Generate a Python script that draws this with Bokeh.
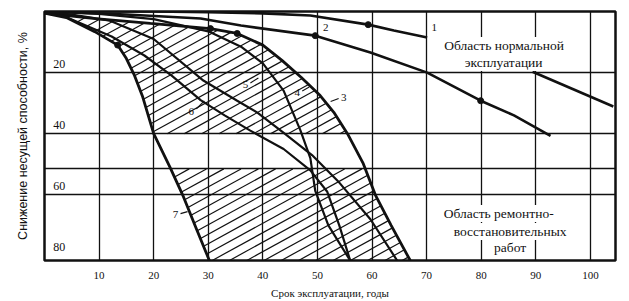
import numpy as np
from bokeh.plotting import figure
from bokeh.models import Range1d, FixedTicker, Label
from bokeh.core.properties import value
from bokeh.embed import file_html
from bokeh.resources import INLINE

# Service life (years) against loss of bearing capacity (%)
c1_x = [0, 20, 30, 40, 48.7, 59.3, 64, 70.1]
c1_y = [0, 0, 0.2, 0.6, 1.3, 4.3, 6.2, 8.5]
c1_tail_x = [89.4, 104.2]
c1_tail_y = [19.7, 31.1]
c2_x = [0, 15, 28.6, 36, 49.6, 59.7, 70.1, 79.9, 86, 92.7]
c2_y = [0, 1, 2.3, 4.6, 7.9, 13.4, 20, 29.2, 34, 40.7]
c3_x = [0, 9.3, 19.4, 30.4, 35.3, 40, 43.5, 47, 50.5, 53, 55.5, 58.4, 60.6, 63.5, 67]
c3_y = [0.5, 2.3, 3.9, 5.6, 7.2, 11, 16, 21.5, 27.5, 33, 40, 49.8, 60, 70, 81.5]
c4_x = [0, 10, 20, 30, 36, 40, 43.8, 46.9, 48.7, 49.6, 52, 56]
c4_y = [0, 0.8, 2.5, 6.5, 11.5, 17, 25.9, 39, 48, 58.7, 70, 81.5]
c5_x = [0, 5, 12, 20, 29.1, 35.3, 39, 44, 49, 54, 59.7, 64.6]
c5_y = [0, 1, 3, 9, 22.6, 29.2, 33.1, 40, 47, 56, 68, 81.5]
c6_x = [0, 3.7, 12.3, 18.3, 23.3, 28.6, 33, 37.7, 43.8, 48.7, 51.8, 54, 56]
c6_y = [0.3, 1.6, 8.2, 14.4, 21, 29, 34, 39, 45, 52, 59, 70, 81.5]
c7_x = [0, 4, 9.2, 13.4, 15, 16.5, 18, 20, 23, 25.3, 27.8, 30.2]
c7_y = [0.5, 2, 6.6, 11, 15.4, 21, 28, 40, 51, 60, 71, 81.5]

# measured points marked on the curves
dot_x = [59.3, 49.6, 79.9, 30.4, 35.3, 13.4]
dot_y = [4.3, 7.9, 29.2, 5.6, 7.2, 11]

curve_labels = ["1", "2", "3", "4", "5", "6", "7"]
curve_label_x = [71.4, 51.5, 54.8, 46.3, 36.8, 26.9, 24.0]
curve_label_y = [5.2, 5.2, 28.2, 26.5, 23.9, 32.7, 66.4]

x_ticks = [10, 20, 30, 40, 50, 60, 70, 80, 90, 100]
y_ticks = [20, 40, 60, 80]
band = [40, 51.5]          # strip of the zone left without hatching
x_max, y_max = 104.6, 81.5

W, H = 629, 301
L, R, T, B = 44, 14, 11, 41
px_x = (W - L - R) / x_max
px_y = (H - T - B) / y_max
ink = "#111111"

p = figure(width=W, height=H, output_backend="svg", toolbar_location=None,
           x_range=Range1d(0, x_max), y_range=Range1d(y_max, 0),
           min_border_left=L, min_border_right=R, min_border_top=T, min_border_bottom=B)
p.background_fill_color = "white"
p.border_fill_color = "white"
p.outline_line_color = ink
p.outline_line_width = 2.5

ax = p.xaxis[0]
ax.ticker = FixedTicker(ticks=x_ticks)
ax.axis_line_color = None
ax.major_tick_line_color = None
ax.minor_tick_line_color = None
ax.major_label_text_font = "Liberation Serif"
ax.major_label_text_font_size = "11px"
ax.major_label_text_color = ink
ax.major_label_standoff = 5
ax.axis_label = "Срок эксплуатации, годы"
ax.axis_label_text_font = "Liberation Serif"
ax.axis_label_text_font_size = "11px"
ax.axis_label_text_font_style = "normal"
ax.axis_label_text_color = ink
ax.axis_label_standoff = 5

ay = p.yaxis[0]
ay.ticker = FixedTicker(ticks=[])
ay.axis_line_color = None
ay.major_tick_line_color = None
ay.minor_tick_line_color = None
ay.axis_label = "Снижение несущей способности, %"
ay.axis_label_text_font = "Liberation Sans"
ay.axis_label_text_font_size = "12.5px"
ay.axis_label_text_font_style = "normal"
ay.axis_label_text_color = ink
ay.axis_label_standoff = 15

p.xgrid.ticker = FixedTicker(ticks=x_ticks)
p.ygrid.ticker = FixedTicker(ticks=[20, 40, band[1], 60])
for g in (p.xgrid[0], p.ygrid[0]):
    g.grid_line_color = ink
    g.grid_line_width = 1.3
    g.grid_line_alpha = 1.0

# hatching of the zone between curves 7 and 3
def hatch_segments(step, slope):
    xs = np.linspace(0, c3_x[-1], 2000)
    top = np.interp(xs, c3_x, c3_y)
    bottom = np.interp(xs, c7_x, c7_y)
    seg_x, seg_y = [], []
    c = step
    while c < y_max + slope * xs[-1]:
        ys = c - slope * xs
        inside = (ys >= top) & (ys <= bottom) & (ys <= y_max) & ~((ys > band[0]) & (ys < band[1]))
        start = None
        for i, flag in enumerate(inside):
            if flag and start is None:
                start = i
            if (not flag or i == len(inside) - 1) and start is not None:
                end = i if flag else i - 1
                if end > start:
                    seg_x.append([xs[start], xs[end]])
                    seg_y.append([ys[start], ys[end]])
                start = None
        c += step
    return seg_x, seg_y

hx, hy = hatch_segments(step=3.1, slope=0.98)
p.multi_line(hx, hy, line_color=ink, line_width=1.2)

p.line(c1_x, c1_y, line_color=ink, line_width=2.6)
p.line(c1_tail_x, c1_tail_y, line_color=ink, line_width=2.6)
p.line(c2_x, c2_y, line_color=ink, line_width=2.6)
p.line(c3_x, c3_y, line_color=ink, line_width=2.8)
p.line(c4_x, c4_y, line_color=ink, line_width=2.2)
p.line(c5_x, c5_y, line_color=ink, line_width=2.2)
p.line(c6_x, c6_y, line_color=ink, line_width=2.2)
p.line(c7_x, c7_y, line_color=ink, line_width=2.8)
p.scatter(dot_x, dot_y, size=6, color=ink)

serif = value("Liberation Serif")
p.text(curve_label_x, curve_label_y, text=curve_labels, text_font=serif,
       text_font_size="11px", text_align="center", text_baseline="middle", text_color=ink)

# short leader strokes from the curve numbers
lead_dx = [None, None, -8, 7, 8, 8, 7]
lead_dy = [None, None, 3, -4, -5, -8, -2]
lx, ly = [], []
for t, x0, y0, dx, dy in zip(curve_labels, curve_label_x, curve_label_y, lead_dx, lead_dy):
    if dx is None:
        continue
    sgn = 1 if dx > 0 else -1
    xa = x0 + sgn * 5 / px_x
    ya = y0 + (dy / abs(dx)) * 5 / px_y * 0.5
    lx.append([xa, xa + dx / px_x])
    ly.append([ya, ya + dy / px_y])
p.multi_line(lx, ly, line_color=ink, line_width=1.1)

# value labels of the vertical scale, set inside the frame above their lines
lift = 9 / px_y
p.text([1.6] * len(y_ticks), [v - lift for v in y_ticks], text=[str(v) for v in y_ticks],
       text_font=serif, text_font_size="12px", text_align="left", text_baseline="middle",
       text_color=ink)

def zone_text(x, y, s):
    p.add_layout(Label(x=x, y=y, text=s, text_align="center", text_baseline="middle",
                       text_font="Liberation Serif", text_font_size="13.5px", text_color=ink,
                       background_fill_color="white", padding=1))

zone_text(84.2, 11.1, "Область нормальной")
zone_text(84.1, 16.7, "эксплуатации")
zone_text(83.2, 66.1, "Область ремонтно-")
zone_text(85.3, 72.0, "восстановительных")
zone_text(85.3, 77.2, "работ")

open("out.html", "w").write(file_html(p, INLINE))
